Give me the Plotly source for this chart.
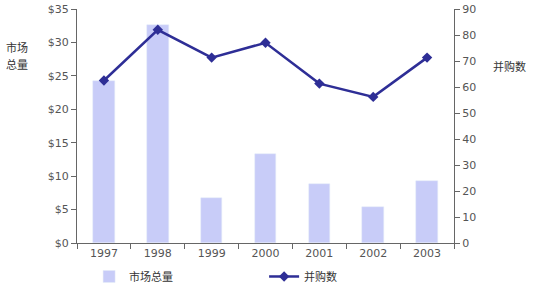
import plotly.graph_objects as go

years = ["1997", "1998", "1999", "2000", "2001", "2002", "2003"]
market_total = [24.2, 32.6, 6.7, 13.3, 8.9, 5.4, 9.3]
mna_count = [62.5, 82, 71.3, 77, 61.3, 56.2, 71.3]

xpos = list(range(len(years)))
GRAY = "#555555"
AX = "#666666"
font = dict(family="DejaVu Sans, Verdana", size=11, color=GRAY)
cjk = "Noto Sans CJK SC"
title_font = dict(family=cjk, size=11, color="#333333")

fig = go.Figure()
fig.add_trace(go.Bar(x=xpos, y=market_total, name="市场总量", marker_color="#C8CCF8",
                     width=0.4, yaxis="y"))
fig.add_trace(go.Scatter(x=xpos, y=mna_count, name="并购数", mode="lines+markers",
                         line=dict(color="#2E2E96", width=2.5),
                         marker=dict(symbol="diamond", size=8, color="#2E2E96"),
                         yaxis="y2"))

common_x = dict(range=[-0.5, 6.5], showgrid=False, zeroline=False)
fig.update_layout(
    width=540, height=288,
    margin=dict(l=77, r=86, t=9, b=45, autoexpand=False),
    plot_bgcolor="white", paper_bgcolor="white",
    font=font,
    bargap=0,
    xaxis=dict(**common_x, tickvals=xpos, ticktext=years, ticks="", showline=True,
               linecolor=AX, linewidth=1,
               minor=dict(tick0=-0.5, dtick=1, ticks="outside", ticklen=5, tickcolor=AX),
               tickfont=font),
    xaxis2=dict(**common_x, overlaying="x", anchor="y", tickmode="linear", tick0=-0.5, dtick=1,
                ticks="inside", ticklen=5, tickcolor=AX, showticklabels=False, showline=False),
    yaxis=dict(range=[0, 35], dtick=5, tickprefix="$", ticks="outside", ticklen=5, tickcolor=AX,
               showline=True, linecolor=AX, showgrid=False, zeroline=False, tickfont=font),
    yaxis3=dict(range=[0, 35], dtick=5, overlaying="y", anchor="x", side="left", ticks="inside",
                ticklen=5, tickcolor=AX, showticklabels=False, showgrid=False, zeroline=False),
    yaxis2=dict(range=[0, 90], dtick=10, overlaying="y", side="right", ticks="outside", ticklen=5,
                tickcolor=AX, showline=True, linecolor=AX, showgrid=False, zeroline=False,
                tickfont=font),
    yaxis4=dict(range=[0, 90], dtick=10, overlaying="y", anchor="x", side="right", ticks="inside",
                ticklen=5, tickcolor=AX, showticklabels=False, showgrid=False, zeroline=False),
    showlegend=True,
    legend=dict(orientation="h", x=0.165, xanchor="left", xref="container",
                y=0.04, yanchor="middle", yref="container",
                font=title_font, entrywidth=130,
                itemwidth=30, tracegroupgap=0, bgcolor="rgba(0,0,0,0)"),
    annotations=[
        dict(text="市场", xref="paper", yref="paper", x=-0.158, y=0.838, xanchor="center",
             yanchor="middle", showarrow=False, font=title_font),
        dict(text="总量", xref="paper", yref="paper", x=-0.158, y=0.766, xanchor="center",
             yanchor="middle", showarrow=False, font=title_font),
        dict(text="并购数", xref="paper", yref="paper", x=1.148, y=0.755, xanchor="center",
             yanchor="middle", showarrow=False, font=title_font),
    ],
)
fig.write_html("out.html")
